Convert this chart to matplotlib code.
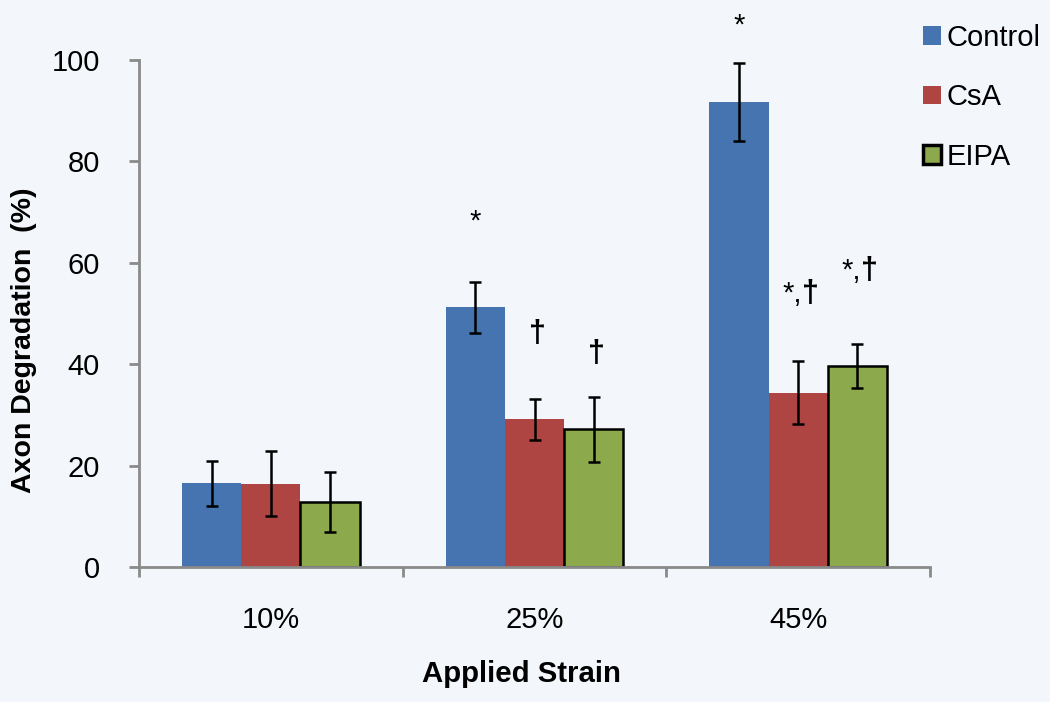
import matplotlib
matplotlib.use("Agg")
import matplotlib.pyplot as plt
from matplotlib.patches import Patch
import numpy as np

plt.rcParams['font.family'] = ['Liberation Sans', 'DejaVu Sans']

# data
categories = ['10%', '25%', '45%']
series_names = ['Control', 'CsA', 'EIPA']
control = [16.5, 51.2, 91.7]
control_err = [4.5, 5.0, 7.7]
csa = [16.4, 29.1, 34.4]
csa_err = [6.4, 4.1, 6.2]
eipa = [12.8, 27.2, 39.6]
eipa_err = [5.9, 6.4, 4.3]

# significance marks: group, series, text, height
ann_group = [1, 1, 1, 2, 2, 2]
ann_series = [0, 1, 2, 0, 1, 2]
ann_text = ['*', '\u2020', '\u2020', '*', '*,\u2020', '*,\u2020']
ann_y = [66.5, 45.1, 41.3, 105.3, 53.0, 57.7]

colors = ['#4674B0', '#AE4542', '#8CAA4C']
edges = ['none', 'none', 'black']
bg = '#F3F7FC'
axis_grey = '#8A8A8A'

fig = plt.figure(figsize=(10.5, 7.02), dpi=100, facecolor=bg)
ax = fig.add_axes([139 / 1050, 135 / 702, 791 / 1050, 507 / 702])
ax.set_facecolor(bg)

x = np.arange(len(categories))
width = 0.225
values = [control, csa, eipa]
errors = [control_err, csa_err, eipa_err]
for i in range(3):
    ax.bar(x + (i - 1) * width, values[i], width,
           color=colors[i], edgecolor=edges[i],
           linewidth=1.8 if edges[i] != 'none' else 0,
           yerr=errors[i], capsize=4.6,
           error_kw=dict(ecolor='black', elinewidth=1.8, capthick=1.8),
           zorder=2)

for g, s, t, yv in zip(ann_group, ann_series, ann_text, ann_y):
    xpos = x[g] + (s - 1) * width
    if t == '*':
        ax.text(xpos, yv, t, ha='center', va='baseline', fontsize=21,
                color='black', clip_on=False)
    elif t == '\u2020':
        ax.text(xpos + 0.01, yv - 0.8, t, ha='center', va='baseline',
                fontsize=22, fontweight='bold', color='black',
                clip_on=False)
    else:
        # star and comma in regular weight, dagger heavier as in the original
        prefix = t[:-1]
        ax.annotate(prefix, (xpos, yv - 0.8), xytext=(2.5, 0),
                    textcoords='offset points', ha='right', va='baseline',
                    fontsize=21, annotation_clip=False)
        ax.annotate(t[-1], (xpos, yv - 0.8), xytext=(2.5, 0),
                    textcoords='offset points', ha='left', va='baseline',
                    fontsize=22, fontweight='bold', annotation_clip=False)

ax.set_xlim(-0.5, 2.5)
ax.set_ylim(0, 100)
ax.set_yticks([0, 20, 40, 60, 80, 100])
ax.set_xticks(x)
ax.set_xticklabels(categories)
ax.set_xticks([-0.5, 0.5, 1.5, 2.5], minor=True)

for side in ['top', 'right']:
    ax.spines[side].set_visible(False)
for side in ['left', 'bottom']:
    ax.spines[side].set_color(axis_grey)
    ax.spines[side].set_linewidth(2)

ax.tick_params(axis='y', direction='out', length=7, width=2,
               color=axis_grey, labelsize=21, pad=21)
ax.tick_params(axis='x', which='major', length=0, labelsize=21, pad=28)
ax.tick_params(axis='x', which='minor', direction='out', length=7,
               width=2, color=axis_grey)

ax.set_xlabel('Applied Strain', fontsize=21.2, fontweight='bold')
ax.xaxis.set_label_coords(0.483, -0.183)
ax.set_ylabel('Axon Degradation  (%)', fontsize=20.5, fontweight='bold')
ax.yaxis.set_label_coords(-0.129, 0.448)

handles = [Patch(facecolor=colors[i], edgecolor=edges[i],
                 linewidth=2.5 if edges[i] != 'none' else 0)
           for i in range(3)]
fig.legend(handles, series_names, loc='upper left',
           bbox_to_anchor=(908 / 1050, 1 - 9 / 702), frameon=False,
           fontsize=21, handlelength=0.62, handleheight=0.6,
           handletextpad=0.2, labelspacing=1.08, borderpad=0)

fig.savefig('out.png', dpi=100, facecolor=bg)
